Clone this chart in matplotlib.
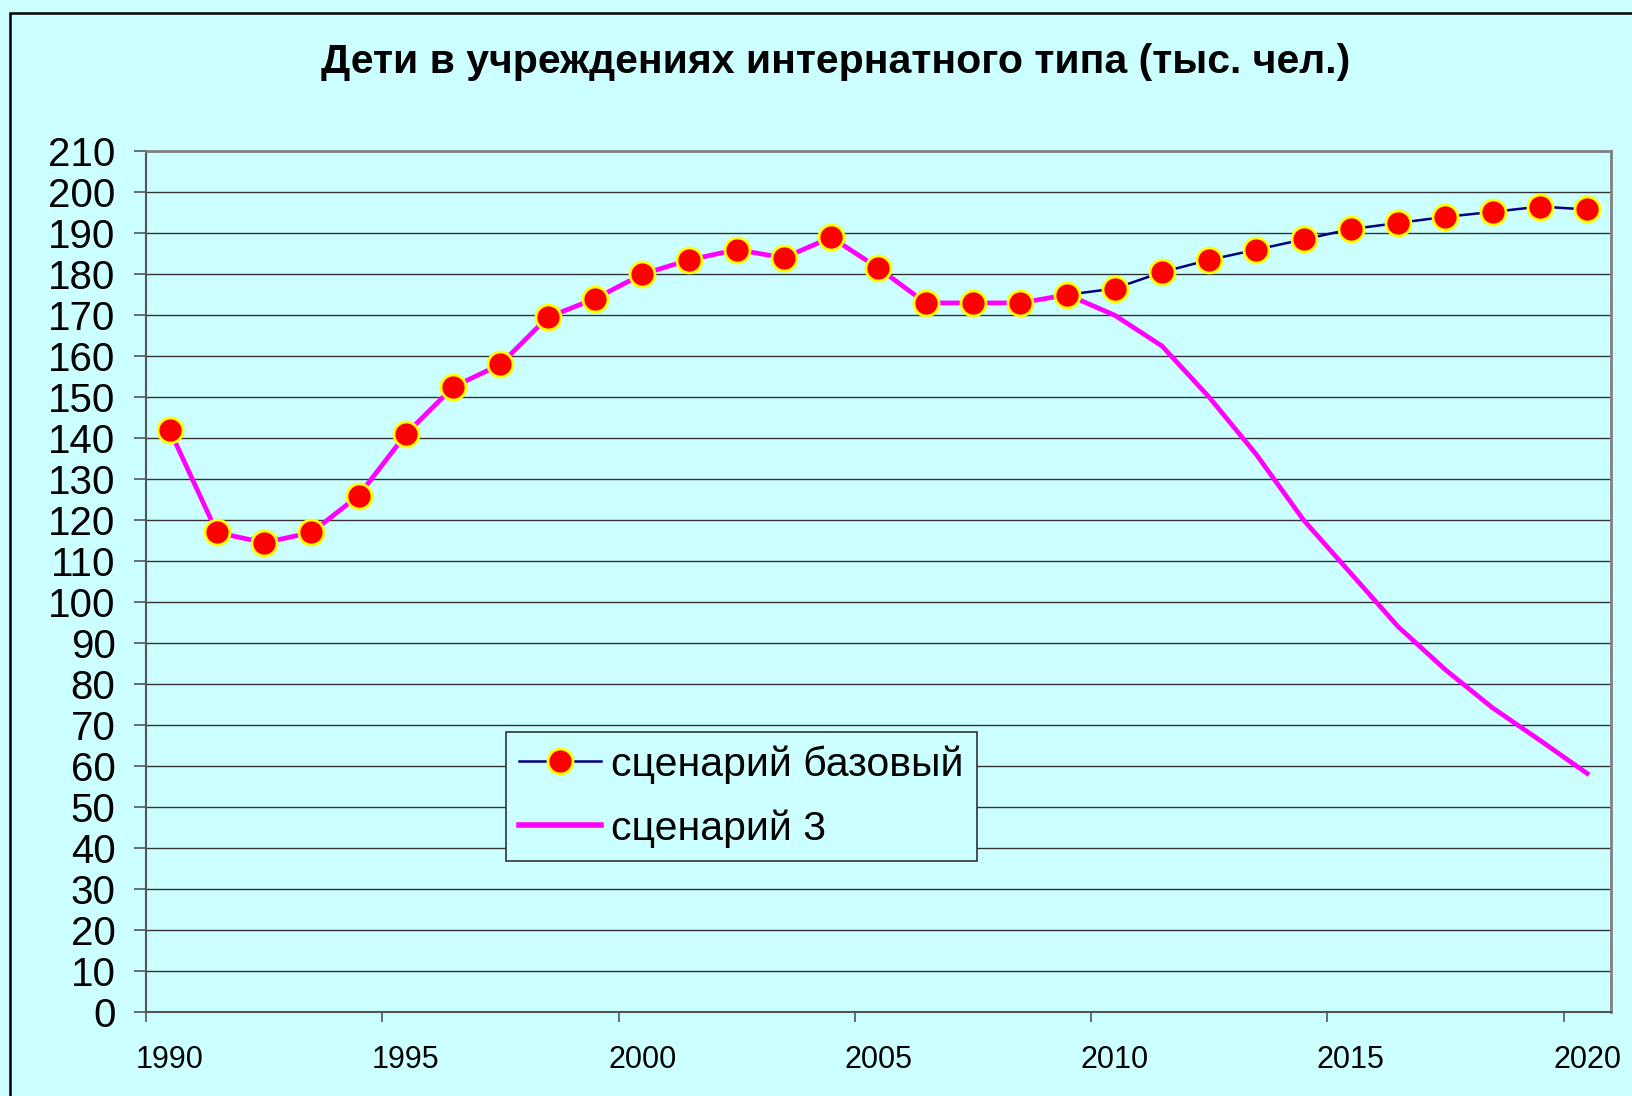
import numpy as np
import matplotlib
matplotlib.use("Agg")
import matplotlib.pyplot as plt
from matplotlib.lines import Line2D
from matplotlib.patches import Rectangle

# -------------------------
# DATA
# -------------------------
years = np.arange(1990, 2021)          # one point per year, drawn at year + 0.5
base = [142, 117, 114.5, 117, 126, 141, 152.5, 158, 169.5, 174,
        180, 183.5, 186, 184, 189, 181.5, 173, 173, 173, 175,
        176.5, 180.5, 183.5, 186, 188.5, 191, 192.5, 194, 195.2, 196.5,
        195.8]
scen3 = [142, 117, 114.5, 117, 126, 141, 152.5, 158, 169.5, 174,
         180, 183.5, 186, 184, 189, 181.5, 173, 173, 173, 175,
         170, 162.5, 150, 136, 120, 107, 94, 83.5, 74.2, 66.3,
         58.2]
tick_years = [1990, 1995, 2000, 2005, 2010, 2015, 2020]
yticks = list(range(0, 211, 10))

title = "Дети в учреждениях интернатного типа (тыс. чел.)"
label_base = "сценарий базовый"
label_s3 = "сценарий 3"

# ----------------
# PLOTTING SECTION
# ----------------
bg = "#CCFFFF"
plt.rcParams["font.family"] = ["Liberation Sans", "DejaVu Sans"]

fig = plt.figure(figsize=(16.32, 10.96), dpi=100, facecolor=bg)
ax = fig.add_axes([0.0895, 0.0766, 0.8975, 0.7854])
ax.set_facecolor(bg)

xx = years + 0.5
ax.plot(xx, base, color="#000080", lw=1.8, zorder=3)
ax.plot(xx, scen3, color="#FF00FF", lw=3.4, zorder=4)
ax.plot(xx, base, ls="none", marker="o", ms=18, mfc="red", mec="yellow",
        mew=2, zorder=5)

ax.set_xlim(1990, 2021)
ax.set_ylim(0, 210)

# y axis
ax.set_yticks(yticks)
ax.tick_params(axis="y", direction="out", length=9, width=1.2,
               color="#555555", labelsize=29, pad=13)
ax.yaxis.grid(True, color="#333333", lw=1.0)
ax.set_axisbelow(True)

# x axis: tick marks at category edges, labels at category centres
ax.set_xticks(tick_years)
ax.set_xticklabels([])
ax.tick_params(axis="x", which="major", direction="out", length=7,
               width=1.2, color="#555555")
ax.set_xticks(np.array(tick_years) + 0.5, minor=True)
ax.set_xticklabels([str(y) for y in tick_years], minor=True)
ax.tick_params(axis="x", which="minor", length=0, labelsize=22, pad=24)

for s in ["top", "right"]:
    ax.spines[s].set_color("#808080")
    ax.spines[s].set_linewidth(2)
for s in ["left", "bottom"]:
    ax.spines[s].set_color("#555555")
    ax.spines[s].set_linewidth(1.5)

# legend
h1 = Line2D([], [], color="#000080", lw=1.8, marker="o", ms=18,
            mfc="red", mec="yellow", mew=2)
h2 = Line2D([], [], color="#FF00FF", lw=4)
leg = ax.legend([h1, h2], [label_base, label_s3], loc="upper left",
                bbox_to_anchor=(0.310, 0.332), bbox_transform=fig.transFigure,
                fontsize=29.5, frameon=True, fancybox=False, framealpha=1,
                facecolor=bg, edgecolor="#333333", handlelength=2.0,
                handletextpad=0.25, borderpad=0.32, labelspacing=0.62,
                borderaxespad=0)
leg.get_frame().set_linewidth(1.2)

fig.text(0.512, 0.943, title, ha="center", va="center", fontsize=29.5,
         fontweight="bold")

# outer chart border (left and top visible)
fig.patches.append(Rectangle((10 / 1632, -0.1), 1.2, 1.1 - 13 / 1096,
                             transform=fig.transFigure, fill=False,
                             edgecolor="black", lw=1.8))

fig.savefig("out.png", dpi=100, facecolor=bg)
